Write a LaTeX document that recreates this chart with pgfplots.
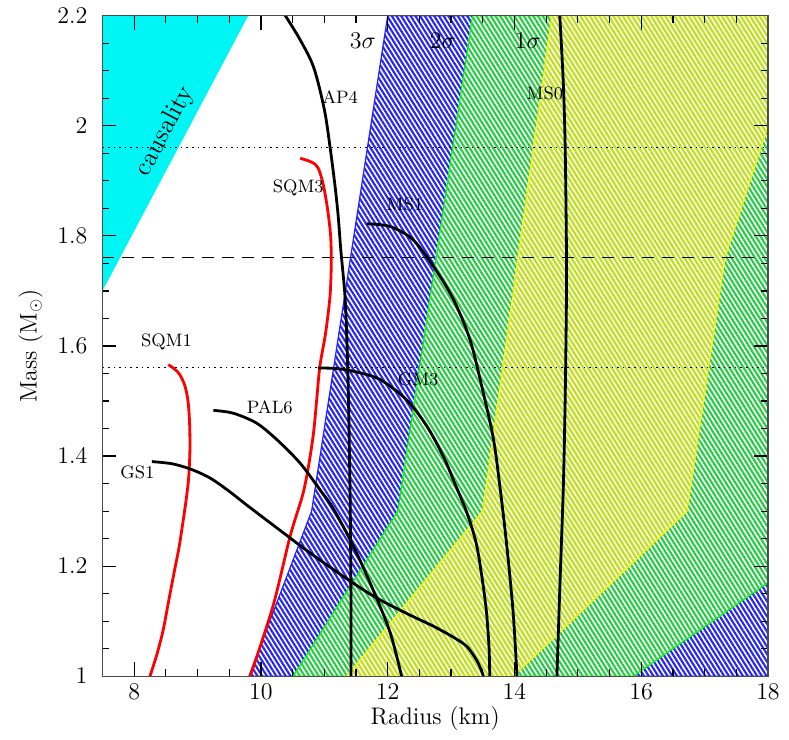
\documentclass[border=0pt]{standalone}
\usepackage{pgfplots}
\pgfplotsset{compat=1.18}
\usetikzlibrary{patterns.meta}
\definecolor{hblue}{RGB}{35,35,250}
\definecolor{hgreen}{RGB}{35,205,65}
\definecolor{hyellow}{RGB}{190,225,20}
\definecolor{cyanc}{RGB}{0,245,245}
\begin{document}
\begin{tikzpicture}
\begin{axis}[
  scale only axis, width=333pt, height=330.5pt,
  xmin=7.5, xmax=18, ymin=1, ymax=2.2,
  xtick={8,10,12,14,16,18}, ytick={1,1.2,1.4,1.6,1.8,2,2.2},
  minor x tick num=3, minor y tick num=3,
  tick align=inside, major tick length=7pt, minor tick length=3.5pt,
  every tick/.style={black, line width=0.6pt},
  axis line style={line width=0.6pt, black!70},
  axis on top,
  xlabel={Radius (km)}, ylabel={Mass (M$_\odot$)},
  ticklabel style={font=\fontsize{11.5}{13}\selectfont},
  xticklabel style={yshift=-0.5pt},
  yticklabel style={xshift=-4pt},
  label style={font=\large},
  xlabel style={at={(axis description cs:0.5,0)}, anchor=center, yshift=-21pt},
  ylabel style={at={(axis description cs:-0.108,0.5)}, anchor=center},
]
% causality
\addplot[draw=none, fill=cyanc] coordinates {(7.5,2.2) (9.80,2.2) (7.5,1.70) (7.5,2.2)};
% 3 sigma
\addplot[draw=none, fill=white] coordinates {(12.0,2.2) (18.2,2.2) (18.2,1.0) (9.81,1.0) (10.80,1.30) (12.0,2.2)};
\addplot[draw=hblue, line width=0.6pt, pattern={Lines[angle=-58, distance=2pt, line width=1.05pt]}, pattern color=hblue] coordinates {(12.0,2.2) (18.2,2.2) (18.2,1.0) (9.81,1.0) (10.80,1.30) (12.0,2.2)};
% 2 sigma
\addplot[draw=none, fill=white] coordinates {(13.34,2.2) (18.2,2.2) (18.2,1.186) (15.87,1.0) (10.51,1.0) (12.16,1.30) (13.34,2.2)};
\addplot[draw=green, line width=0.6pt, pattern={Lines[angle=-58, distance=2pt, line width=1.05pt]}, pattern color=hgreen] coordinates {(13.34,2.2) (18.2,2.2) (18.2,1.186) (15.87,1.0) (10.51,1.0) (12.16,1.30) (13.34,2.2)};
% 1 sigma
\addplot[draw=none, fill=white] coordinates {(14.59,2.2) (18.2,2.2) (18.2,2.07) (17.32,1.76) (16.72,1.30) (13.98,1.0) (11.35,1.0) (13.50,1.30) (14.59,2.2)};
\addplot[draw=yellow, line width=0.6pt, pattern={Lines[angle=-58, distance=2pt, line width=1.1pt]}, pattern color=hyellow] coordinates {(14.59,2.2) (18.2,2.2) (18.2,2.07) (17.32,1.76) (16.72,1.30) (13.98,1.0) (11.35,1.0) (13.50,1.30) (14.59,2.2)};
% reference lines
\addplot[black, line width=0.5pt, dash pattern=on 0.8pt off 2pt] coordinates {(7.5,1.96) (18,1.96)};
\addplot[black, line width=0.5pt, dash pattern=on 6pt off 4pt] coordinates {(7.5,1.76) (18,1.76)};
\addplot[black, line width=0.5pt, dash pattern=on 0.8pt off 2pt] coordinates {(7.5,1.56) (18,1.56)};
% strange quark matter (red)
\addplot[red, line width=1.4pt, smooth, tension=0.5] coordinates {(10.62,1.941) (10.80,1.934) (10.90,1.924) (10.98,1.895) (11.05,1.85) (11.10,1.80) (11.11,1.75) (11.09,1.69) (11.02,1.623) (10.93,1.563) (10.88,1.502) (10.83,1.442) (10.75,1.381) (10.66,1.33) (10.46,1.254) (10.19,1.127) (9.83,1.0)};
\addplot[red, line width=1.4pt, smooth, tension=0.5] coordinates {(8.54,1.566) (8.64,1.558) (8.72,1.548) (8.80,1.528) (8.85,1.50) (8.875,1.46) (8.88,1.41) (8.86,1.36) (8.82,1.32) (8.77,1.28) (8.71,1.235) (8.64,1.194) (8.55,1.14) (8.46,1.085) (8.36,1.04) (8.25,1.0)};
% black EOS curves
\addplot[black, line width=1.4pt, smooth, tension=0.5] coordinates {(10.33,2.21) (10.60,2.16) (10.83,2.107) (11.0,2.03) (11.09,1.962) (11.17,1.89) (11.22,1.835) (11.26,1.775) (11.33,1.684) (11.37,1.56) (11.39,1.45) (11.41,1.30) (11.42,1.15) (11.42,1.0)};
\addplot[black, line width=1.4pt, smooth, tension=0.5] coordinates {(14.71,2.21) (14.77,2.08) (14.80,1.962) (14.82,1.78) (14.82,1.684) (14.80,1.502) (14.77,1.34) (14.72,1.175) (14.67,1.0)};
\addplot[black, line width=1.4pt, smooth, tension=0.5] coordinates {(11.67,1.822) (12.04,1.817) (12.40,1.793) (12.75,1.74) (13.04,1.684) (13.30,1.611) (13.51,1.514) (13.67,1.43) (13.77,1.345) (13.88,1.236) (13.98,1.115) (14.04,1.0)};
\addplot[black, line width=1.4pt, smooth, tension=0.5] coordinates {(10.90,1.56) (11.2,1.559) (11.5,1.553) (11.88,1.539) (12.30,1.502) (12.62,1.454) (12.88,1.399) (13.06,1.35) (13.25,1.297) (13.40,1.24) (13.50,1.17) (13.56,1.115) (13.60,1.05) (13.61,1.0)};
\addplot[black, line width=1.4pt, smooth, tension=0.5] coordinates {(9.25,1.483) (9.56,1.478) (9.93,1.46) (10.25,1.43) (10.62,1.387) (10.93,1.339) (11.14,1.305) (11.46,1.236) (11.77,1.157) (12.04,1.079) (12.22,1.0)};
\addplot[black, line width=1.4pt, smooth, tension=0.5] coordinates {(8.28,1.39) (8.6,1.386) (8.9,1.376) (9.2,1.36) (9.5,1.336) (9.8,1.309) (10.2,1.274) (10.8,1.222) (11.42,1.172) (11.83,1.142) (12.3,1.114) (12.72,1.091) (13.05,1.07) (13.25,1.054) (13.40,1.03) (13.48,1.01) (13.51,1.0)};
% labels
\node[rotate=62, font=\fontsize{13}{15}\selectfont] at (axis cs:8.49,1.99) {causality};
\node[font=\large] at (axis cs:11.61,2.155) {$3\sigma$};
\node[font=\large] at (axis cs:12.87,2.155) {$2\sigma$};
\node[font=\large] at (axis cs:14.21,2.155) {$1\sigma$};
\node[font=\small] at (axis cs:11.25,2.053) {AP4};
\node[font=\small] at (axis cs:14.48,2.058) {MS0};
\node[font=\small] at (axis cs:10.59,1.888) {SQM3};
\node[font=\small] at (axis cs:12.27,1.858) {MS1};
\node[font=\small] at (axis cs:8.51,1.608) {SQM1};
\node[font=\small] at (axis cs:12.48,1.539) {GM3};
\node[font=\small] at (axis cs:10.14,1.489) {PAL6};
\node[font=\small] at (axis cs:8.05,1.370) {GS1};
\end{axis}
\pgfresetboundingbox
\path[use as bounding box] ([xshift=-51.25pt,yshift=-31.5pt]current axis.south west) rectangle ([xshift=10.5pt,yshift=7.85pt]current axis.north east);
\end{tikzpicture}
\end{document}
